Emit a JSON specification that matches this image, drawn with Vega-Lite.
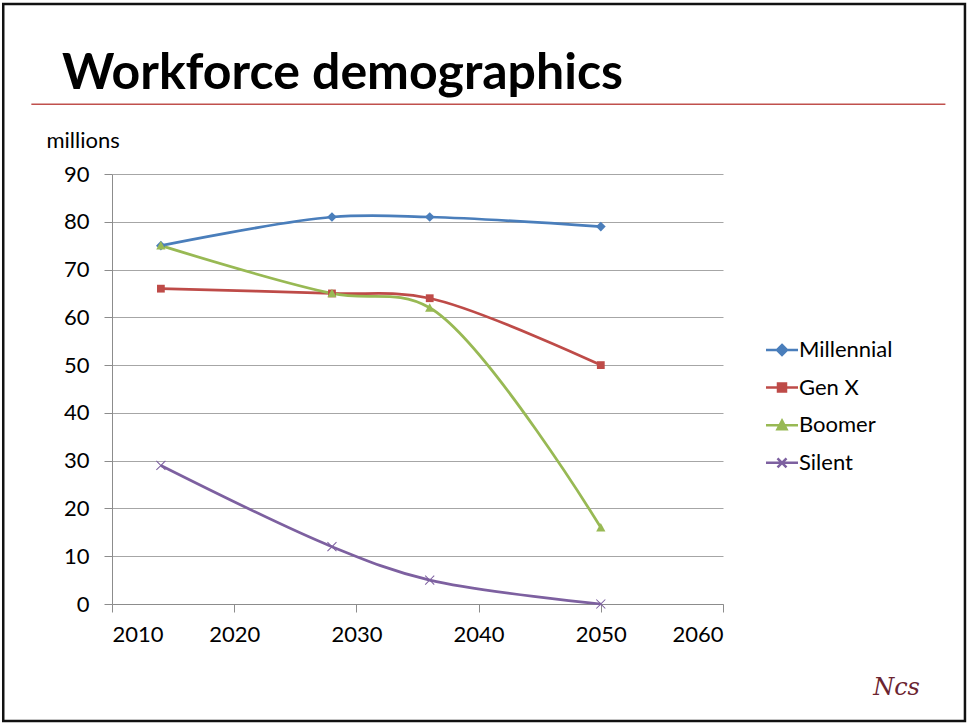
{
  "$schema": "https://vega.github.io/schema/vega-lite/v6.json",
  "autosize": "none",
  "width": 611,
  "height": 430,
  "padding": {"left": 112, "top": 174, "right": 246, "bottom": 121},
  "background": "white",
  "title": {
    "text": "Workforce demographics",
    "anchor": "start",
    "frame": "group",
    "font": "Lato",
    "fontSize": 50,
    "fontWeight": "bold",
    "color": "black",
    "baseline": "alphabetic",
    "dx": -50,
    "offset": -136
  },
  "config": {
    "view": {"stroke": null},
    "font": "Lato",
    "axis": {
      "labelFont": "Lato",
      "labelFontSize": 22,
      "labelColor": "black",
      "domainColor": "#8c8c8c",
      "tickColor": "#8c8c8c",
      "tickSize": 8,
      "gridColor": "#a6a6a6",
      "titleFont": "Lato"
    },
    "legend": {
      "title": null,
      "orient": "none",
      "legendX": 659,
      "legendY": 165,
      "padding": 0,
      "labelFont": "Lato",
      "labelFontSize": 22,
      "labelColor": "black",
      "labelOffset": 6,
      "symbolSize": 100,
      "rowPadding": 15.6
    }
  },
  "datasets": {
    "workforce": [
      {"year": 2014, "group": "Millennial", "millions": 75},
      {"year": 2028, "group": "Millennial", "millions": 81},
      {"year": 2036, "group": "Millennial", "millions": 81},
      {"year": 2050, "group": "Millennial", "millions": 79},
      {"year": 2014, "group": "Gen X", "millions": 66},
      {"year": 2028, "group": "Gen X", "millions": 65},
      {"year": 2036, "group": "Gen X", "millions": 64},
      {"year": 2050, "group": "Gen X", "millions": 50},
      {"year": 2014, "group": "Boomer", "millions": 75},
      {"year": 2028, "group": "Boomer", "millions": 65},
      {"year": 2036, "group": "Boomer", "millions": 62},
      {"year": 2050, "group": "Boomer", "millions": 16},
      {"year": 2014, "group": "Silent", "millions": 29},
      {"year": 2028, "group": "Silent", "millions": 12},
      {"year": 2036, "group": "Silent", "millions": 5},
      {"year": 2050, "group": "Silent", "millions": 0}
    ],
    "one": [{}]
  },
  "layer": [
    {
      "data": {"name": "one"},
      "mark": {"type": "rect", "fill": null, "stroke": "#111111", "strokeWidth": 2.5},
      "encoding": {
        "x": {"datum": 2001.1, "type": "quantitative", "scale": {"domain": [2010, 2060], "nice": false, "zero": false}},
        "x2": {"datum": 2079.8},
        "y": {"datum": 125.6, "type": "quantitative", "scale": {"domain": [0, 90], "nice": false}},
        "y2": {"datum": -24.5}
      }
    },
    {
      "data": {"name": "one"},
      "mark": {"type": "rule", "stroke": "#c0504d", "strokeWidth": 1.5},
      "encoding": {
        "x": {"datum": 2003.4, "type": "quantitative"},
        "x2": {"datum": 2078.2},
        "y": {"datum": 104.6, "type": "quantitative"}
      }
    },
    {
      "data": {"name": "one"},
      "mark": {"type": "text", "text": "Ncs", "font": "DejaVu Serif", "fontStyle": "italic", "fontSize": 24, "color": "#6b2430", "align": "center", "baseline": "middle"},
      "encoding": {
        "x": {"datum": 2074.2, "type": "quantitative"},
        "y": {"datum": -17.6, "type": "quantitative"}
      }
    },
    {
      "data": {"name": "workforce"},
      "mark": {"type": "line", "interpolate": "catmull-rom", "strokeWidth": 2.75},
      "encoding": {
        "x": {
          "field": "year", "type": "quantitative",
          "scale": {"domain": [2010, 2060], "nice": false, "zero": false},
          "axis": {"values": [2010, 2020, 2030, 2040, 2050, 2060], "format": "d", "grid": false, "title": null, "labelPadding": 12}
        },
        "y": {
          "field": "millions", "type": "quantitative",
          "scale": {"domain": [0, 90], "nice": false},
          "axis": {
            "values": [0, 10, 20, 30, 40, 50, 60, 70, 80, 90],
            "grid": true,
            "labelPadding": 15,
            "title": "millions",
            "titleAngle": 0,
            "titleAlign": "left",
            "titleBaseline": "alphabetic",
            "titleX": -66,
            "titleY": -27,
            "titleFontSize": 22,
            "titleFontWeight": "normal",
            "titleColor": "black"
          }
        },
        "color": {
          "field": "group", "type": "nominal",
          "scale": {"domain": ["Millennial", "Gen X", "Boomer", "Silent"], "range": ["#4a7ebb", "#be4b48", "#98b954", "#7d60a0"]},
          "legend": {"encode": {"symbols": {"update": {
            "shape": {"signal": "datum.value === 'Millennial' ? 'M-3.2,0H3.2M0,-1L1,0L0,1L-1,0Z' : datum.value === 'Gen X' ? 'M-3.2,0H3.2M-0.8,-0.8H0.8V0.8H-0.8Z' : datum.value === 'Boomer' ? 'M-3.2,0H3.2M0,-0.9L0.9,0.8H-0.9Z' : 'M-3.2,0H3.2M-0.9,-0.9L0.9,0.9M-0.9,0.9L0.9,-0.9'"},
            "stroke": {"signal": "scale('color', datum.value)"},
            "strokeWidth": {"value": 2.5},
            "fill": {"signal": "scale('color', datum.value)"},
            "opacity": {"value": 1}
          }}}}
        }
      }
    },
    {
      "data": {"name": "workforce"},
      "transform": [{"filter": "datum.group === 'Millennial'"}],
      "mark": {"type": "point", "filled": true, "opacity": 1, "size": 95, "shape": "M0,-1L1,0L0,1L-1,0Z"},
      "encoding": {
        "x": {"field": "year", "type": "quantitative"},
        "y": {"field": "millions", "type": "quantitative"},
        "color": {
          "field": "group", "type": "nominal",
          "legend": {"encode": {"symbols": {"update": {
            "shape": {"signal": "datum.value === 'Millennial' ? 'M-3.2,0H3.2M0,-1L1,0L0,1L-1,0Z' : datum.value === 'Gen X' ? 'M-3.2,0H3.2M-0.8,-0.8H0.8V0.8H-0.8Z' : datum.value === 'Boomer' ? 'M-3.2,0H3.2M0,-0.9L0.9,0.8H-0.9Z' : 'M-3.2,0H3.2M-0.9,-0.9L0.9,0.9M-0.9,0.9L0.9,-0.9'"},
            "stroke": {"signal": "scale('color', datum.value)"},
            "strokeWidth": {"value": 2.5},
            "fill": {"signal": "scale('color', datum.value)"},
            "opacity": {"value": 1}
          }}}}
        }
      }
    },
    {
      "data": {"name": "workforce"},
      "transform": [{"filter": "datum.group === 'Gen X'"}],
      "mark": {"type": "point", "filled": true, "opacity": 1, "size": 95, "shape": "M-0.8,-0.8H0.8V0.8H-0.8Z"},
      "encoding": {
        "x": {"field": "year", "type": "quantitative"},
        "y": {"field": "millions", "type": "quantitative"},
        "color": {
          "field": "group", "type": "nominal",
          "legend": {"encode": {"symbols": {"update": {
            "shape": {"signal": "datum.value === 'Millennial' ? 'M-3.2,0H3.2M0,-1L1,0L0,1L-1,0Z' : datum.value === 'Gen X' ? 'M-3.2,0H3.2M-0.8,-0.8H0.8V0.8H-0.8Z' : datum.value === 'Boomer' ? 'M-3.2,0H3.2M0,-0.9L0.9,0.8H-0.9Z' : 'M-3.2,0H3.2M-0.9,-0.9L0.9,0.9M-0.9,0.9L0.9,-0.9'"},
            "stroke": {"signal": "scale('color', datum.value)"},
            "strokeWidth": {"value": 2.5},
            "fill": {"signal": "scale('color', datum.value)"},
            "opacity": {"value": 1}
          }}}}
        }
      }
    },
    {
      "data": {"name": "workforce"},
      "transform": [{"filter": "datum.group === 'Boomer'"}],
      "mark": {"type": "point", "filled": true, "opacity": 1, "size": 95, "shape": "M0,-0.95L0.95,0.8H-0.95Z"},
      "encoding": {
        "x": {"field": "year", "type": "quantitative"},
        "y": {"field": "millions", "type": "quantitative"},
        "color": {
          "field": "group", "type": "nominal",
          "legend": {"encode": {"symbols": {"update": {
            "shape": {"signal": "datum.value === 'Millennial' ? 'M-3.2,0H3.2M0,-1L1,0L0,1L-1,0Z' : datum.value === 'Gen X' ? 'M-3.2,0H3.2M-0.8,-0.8H0.8V0.8H-0.8Z' : datum.value === 'Boomer' ? 'M-3.2,0H3.2M0,-0.9L0.9,0.8H-0.9Z' : 'M-3.2,0H3.2M-0.9,-0.9L0.9,0.9M-0.9,0.9L0.9,-0.9'"},
            "stroke": {"signal": "scale('color', datum.value)"},
            "strokeWidth": {"value": 2.5},
            "fill": {"signal": "scale('color', datum.value)"},
            "opacity": {"value": 1}
          }}}}
        }
      }
    },
    {
      "data": {"name": "workforce"},
      "transform": [{"filter": "datum.group === 'Silent'"}],
      "mark": {"type": "point", "filled": true, "opacity": 1, "size": 95, "shape": "M-1,-0.85L-0.85,-1L0,-0.15L0.85,-1L1,-0.85L0.15,0L1,0.85L0.85,1L0,0.15L-0.85,1L-1,0.85L-0.15,0Z"},
      "encoding": {
        "x": {"field": "year", "type": "quantitative"},
        "y": {"field": "millions", "type": "quantitative"},
        "color": {
          "field": "group", "type": "nominal",
          "legend": {"encode": {"symbols": {"update": {
            "shape": {"signal": "datum.value === 'Millennial' ? 'M-3.2,0H3.2M0,-1L1,0L0,1L-1,0Z' : datum.value === 'Gen X' ? 'M-3.2,0H3.2M-0.8,-0.8H0.8V0.8H-0.8Z' : datum.value === 'Boomer' ? 'M-3.2,0H3.2M0,-0.9L0.9,0.8H-0.9Z' : 'M-3.2,0H3.2M-0.9,-0.9L0.9,0.9M-0.9,0.9L0.9,-0.9'"},
            "stroke": {"signal": "scale('color', datum.value)"},
            "strokeWidth": {"value": 2.5},
            "fill": {"signal": "scale('color', datum.value)"},
            "opacity": {"value": 1}
          }}}}
        }
      }
    }
  ]
}
